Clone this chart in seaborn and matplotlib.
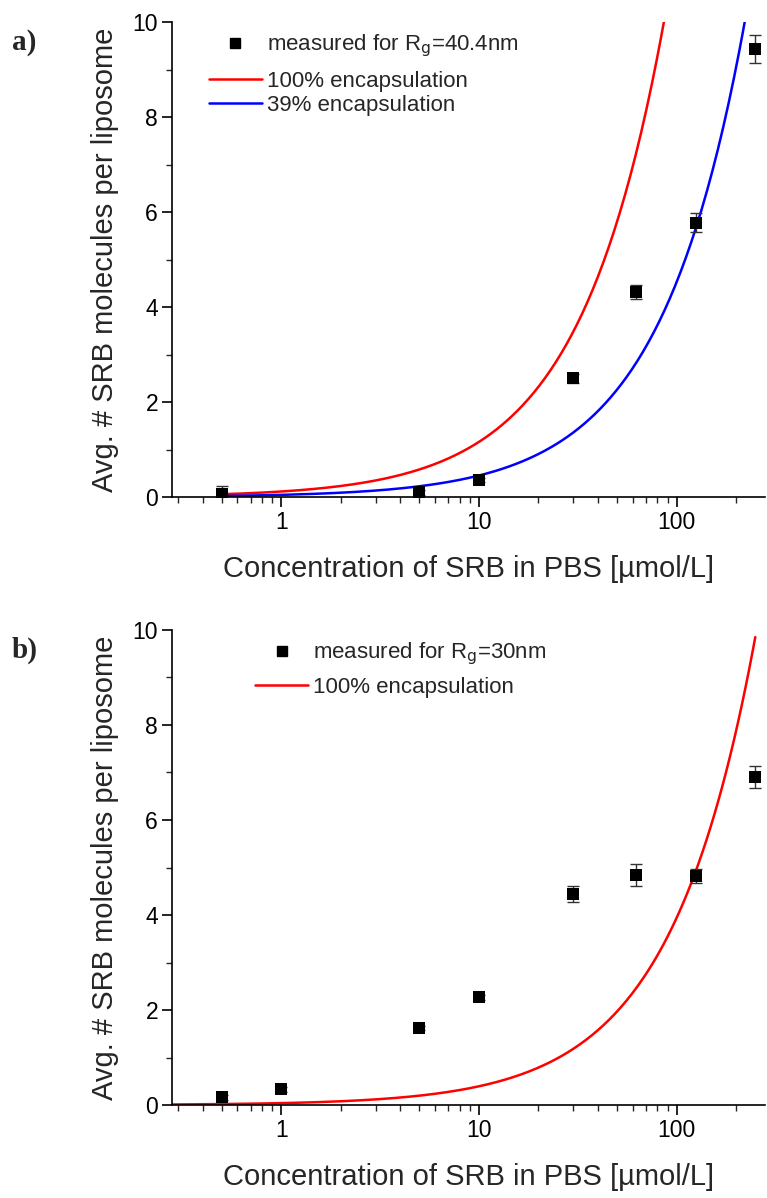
import numpy as np
import pandas as pd
import matplotlib
matplotlib.use("Agg")
import matplotlib.pyplot as plt
from matplotlib.ticker import MultipleLocator, LogLocator, FixedLocator, FixedFormatter, NullFormatter
from matplotlib.lines import Line2D
import seaborn as sns

# ---------------- data ----------------
conc_a = [0.5, 5, 10, 30, 62.5, 125, 250]
meas_a = [0.07, 0.10, 0.36, 2.50, 4.31, 5.77, 9.43]
err_a = [0.17, 0.05, 0.05, 0.10, 0.15, 0.20, 0.30]

conc_b = [0.5, 1, 5, 10, 30, 62.5, 125, 250]
meas_b = [0.16, 0.33, 1.62, 2.27, 4.44, 4.85, 4.82, 6.90]
err_b = [0.05, 0.05, 0.05, 0.05, 0.17, 0.23, 0.15, 0.23]

# model slopes (molecules per liposome per umol/L)
slope_a_100 = 0.116
fraction_a_39 = 0.39
slope_b_100 = 0.0394

curve_range_a = (0.5, 250)
curve_range_b = (0.28, 250)

legend_a = ["measured for R$_\\mathrm{g}$=40.4nm", "100% encapsulation", "39% encapsulation"]
legend_b = ["measured for R$_\\mathrm{g}$=30nm", "100% encapsulation"]
xlabel = "Concentration of SRB in PBS [µmol/L]"
ylabel = "Avg. # SRB molecules per liposome"
panel_labels = ["a)", "b)"]

# ---------------- style ----------------
sns.set_theme(style="ticks")
plt.rcParams['font.family'] = ['Liberation Sans', 'DejaVu Sans']
plt.rcParams['mathtext.default'] = 'regular'
plt.rcParams['axes.linewidth'] = 1.2

W, H = 767, 1198
fig = plt.figure(figsize=(W / 100, H / 100), dpi=100)

left = 172 / W
right = 765 / W
ax_a = fig.add_axes([left, 1 - 497 / H, right - left, (497 - 22) / H])
ax_b = fig.add_axes([left, 1 - 1105 / H, right - left, (1105 - 630) / H])


def curve_df(rng, slope):
    x = np.geomspace(rng[0], rng[1], 300)
    return pd.DataFrame({"x": x, "y": slope * x})


def style_axes(ax):
    ax.set_xscale("log")
    ax.set_xlim(0.28, 280)
    ax.set_ylim(0, 10)
    ax.yaxis.set_major_locator(MultipleLocator(2))
    ax.yaxis.set_minor_locator(MultipleLocator(1))
    ax.xaxis.set_major_locator(FixedLocator([1, 10, 100]))
    ax.xaxis.set_major_formatter(FixedFormatter(["1", "10", "100"]))
    ax.xaxis.set_minor_locator(LogLocator(base=10, subs=np.arange(2, 10)))
    ax.xaxis.set_minor_formatter(NullFormatter())
    sns.despine(ax=ax)
    ax.tick_params(which="major", direction="out", length=7, width=1.2,
                   labelsize=16.5, colors="black", pad=3)
    ax.tick_params(which="minor", direction="out", length=4, width=1.0)
    ax.set_xlabel(xlabel, fontsize=21, labelpad=15)
    ax.set_ylabel(ylabel, fontsize=21, labelpad=10)
    ax.spines['left'].set_color('black')
    ax.spines['bottom'].set_color('black')


leg_kw = dict(loc="upper left", frameon=False, fontsize=16, handlelength=2.4,
              handletextpad=0.2, labelspacing=0.15, borderaxespad=0, borderpad=0)


def two_legends(ax, handles, labels, x0, y_meas, y_lines):
    leg1 = ax.legend(handles[:1], labels[:1], bbox_to_anchor=(x0, y_meas), **leg_kw)
    ax.add_artist(leg1)
    ax.legend(handles[1:], labels[1:], bbox_to_anchor=(x0, y_lines), **leg_kw)


# panel a
da_red = curve_df(curve_range_a, slope_a_100)
da_blue = curve_df(curve_range_a, slope_a_100 * fraction_a_39)
sns.lineplot(data=da_red, x="x", y="y", ax=ax_a, color="#ff0000", linewidth=1.8)
sns.lineplot(data=da_blue, x="x", y="y", ax=ax_a, color="#0000ff", linewidth=1.8)
ax_a.errorbar(conc_a, meas_a, yerr=err_a, fmt="none", ecolor="#333333",
              elinewidth=1.0, capsize=4, capthick=1.0, zorder=3)
sns.scatterplot(x=conc_a, y=meas_a, ax=ax_a, marker="s", s=75, color="black",
                edgecolor="black", linewidth=0, zorder=4)
style_axes(ax_a)
h_a = [Line2D([], [], marker="s", color="black", linestyle="none", markersize=7),
       Line2D([], [], color="#ff0000", linewidth=1.8),
       Line2D([], [], color="#0000ff", linewidth=1.8)]
two_legends(ax_a, h_a, legend_a, 0.062, 0.978, 0.897)

# panel b
db_red = curve_df(curve_range_b, slope_b_100)
sns.lineplot(data=db_red, x="x", y="y", ax=ax_b, color="#ff0000", linewidth=1.8)
ax_b.errorbar(conc_b, meas_b, yerr=err_b, fmt="none", ecolor="#333333",
              elinewidth=1.0, capsize=4, capthick=1.0, zorder=3)
sns.scatterplot(x=conc_b, y=meas_b, ax=ax_b, marker="s", s=75, color="black",
                edgecolor="black", linewidth=0, zorder=4)
style_axes(ax_b)
h_b = [Line2D([], [], marker="s", color="black", linestyle="none", markersize=7),
       Line2D([], [], color="#ff0000", linewidth=1.8)]
two_legends(ax_b, h_b, legend_b, 0.14, 0.978, 0.901)

fig.text(12 / W, 1 - 42 / H, panel_labels[0], fontsize=21, fontweight="bold",
         family=["Liberation Serif", "DejaVu Serif"], ha="left", va="center")
fig.text(12 / W, 1 - 650 / H, panel_labels[1], fontsize=21, fontweight="bold",
         family=["Liberation Serif", "DejaVu Serif"], ha="left", va="center")

fig.savefig("out.png", dpi=100)
